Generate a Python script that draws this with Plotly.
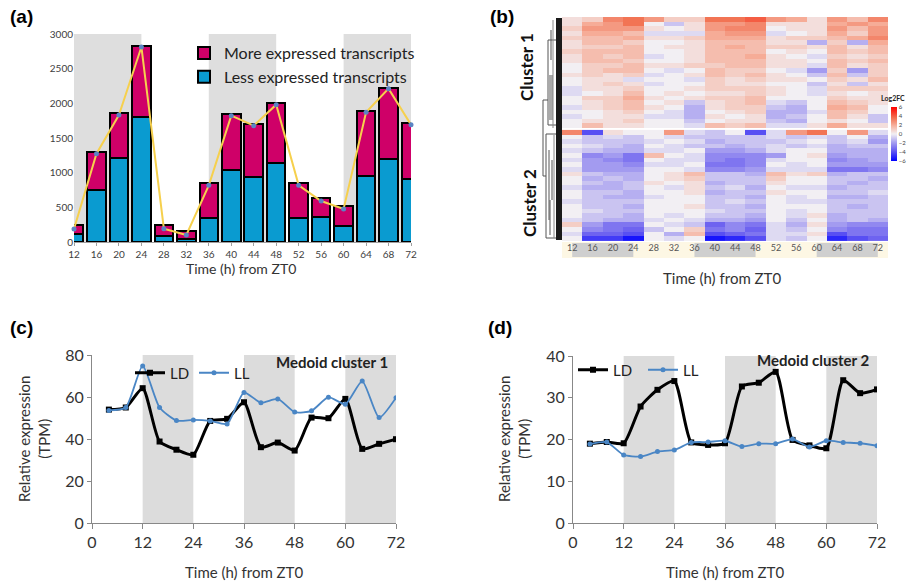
import plotly.graph_objects as go

W, H = 909, 584
def px(x):
    return x / W
def py(y):
    return 1 - y / H

FONT = "Lato"

# ---------------- data ----------------
hours = [12, 16, 20, 24, 28, 32, 36, 40, 44, 48, 52, 56, 60, 64, 68, 72]
less_expressed = [115, 745, 1210, 1800, 80, 48, 346, 1040, 935, 1135, 346, 356, 236, 945, 1195, 910]
more_expressed = [125, 555, 645, 1020, 160, 106, 510, 806, 765, 865, 510, 279, 288, 949, 1025, 806]
total_line = [187, 1274, 1832, 2813, 192, 101, 817, 1822, 1678, 1981, 817, 591, 476, 1870, 2212, 1692]

dark_periods = [(12, 24), (36, 48), (60, 72)]

# heatmap (log2 fold change), rows top to bottom
cluster1_rows = [
    [0.5, 1, 3, 3.5, 2.5, 1, 1, 3.5, 3.5, 4, 2.5, 2, 0.5, 2.5, 1.5, 3],
    [0.5, 2, 2.5, 3.5, 0, -1, 0.5, 2.5, 2.5, 3, 0.5, 0.5, 0.5, 2, 2.5, 2],
    [1, 2.5, 2.5, 2.5, 0.5, 0, 0.5, 2.5, 3, 3, 0, 0.5, 0.5, 2.5, 1.5, 2.5],
    [0.5, 2, 2, 1.5, -0.5, -0.5, -0.5, 2, 2.5, 2.5, -0.5, 0, 0.5, 2, 1, 2.5],
    [1, 1.5, 1.5, 2, 0.5, 0.5, 1, 2, 2, 2, 0.5, 1, 1, 1.5, 2, 3],
    [0.5, 1.5, 1.5, 1, 0, 0, 0.5, 1.5, 1.5, 1.5, 0.5, 0.5, -1.5, 1, -1.5, 2],
    [0.5, 1, 1, 1.5, 0, 0.5, 0.5, 1.5, 2, 1.5, 1, 1, 0.5, 1.5, 0.5, 1.5],
    [1, 1.5, 1.5, 1.5, 0, 0, 0.5, 1.5, 1.5, 1.5, 0, 0.5, 0, 1.5, 1, 1.5],
    [0.5, 1.5, 1, 1.5, -0.5, 0, 0.5, 1.5, 1.5, 2, 0.5, 0, -0.5, 1, 0.5, 1],
    [0.5, 1.5, 1.5, 1, 0, 0, 0.5, 1.5, 1.5, 1.5, 0.5, 0.5, 0, 1.5, 1, 1.5],
    [0, 1, 1, 1.5, 0.5, 0.5, 1, 1, 1.5, 1.5, 0.5, 0.5, -0.5, 1.5, 0.5, 1],
    [0, 1, 1.5, 1.5, 0, -0.5, 0, 1.5, 1, 1, 0, -0.5, -2, 1, -2, 1],
    [0.5, 1, 0.5, 1, -0.5, 0, 0.5, 1.5, 1, 1.5, 0.5, 0, -1, 1.5, -1, 1],
    [0, 0.5, 0.5, -0.5, 0, 0, -0.5, 1, 0.5, 1, 0.5, 0.5, 0, 1, 0.5, 1.5],
    [0, 0.5, 1, 0.5, -0.5, 0, 0, 1, 0.5, 0.5, 0, 0, -1, 0.5, -1, 0.5],
    [-0.5, 0.5, 0.5, 1, 0, 0, 0.5, 1, 1, 1, 0.5, 0, -0.5, 1, 1, 1],
    [-0.5, 0, 0.5, 1.5, 0, 0.5, 0, 0.5, 0.5, 1, 0.5, 0, -0.5, 0.5, 0, 0.5],
    [0, 1, 1, 2, 0.5, 0, 0.5, 1, 1, 1.5, 0, 0, 0, 1, 0.5, 0.5],
    [0, 0.5, 1, 1.5, 0, 0.5, -1, 0.5, 1, 1.5, -0.5, -1, 0, 1.5, 1, 0.5],
    [-0.5, 0.5, 1, 1.5, 0.5, 0, -1.5, 0.5, 1, 1, -1, -1.5, 0, 2, 1.5, 0],
    [0, 0, 0.5, 1, 0, -0.5, -1.5, 0, 0.5, 1, -1.5, -1.5, -0.5, 1.5, 1, 0],
    [-0.5, 0, 0.5, 0.5, -0.5, -0.5, -1.5, 0.5, 0, 0.5, -1.5, -1, 0, 1.5, 0.5, -1],
    [0, 0.5, 0.5, 1, 0, 0, -1, 0, 0.5, 0.5, -1, -1.5, 0, 0.5, 0, -1],
    [0, 1.5, 0.5, 0.5, 0, 0, -0.5, 1.5, 1, 1.5, -0.5, -0.5, 0.5, 2, 0.5, 0.5],
]
cluster2_rows = [
    [3, -4, 0.5, 0, 0, 2.5, -0.5, -1, 0, -4, -0.5, 2.5, 3.5, 0, 2.5, -0.5],
    [0, -1, -0.5, -1, 0, -0.5, -1, -1, -1, -1, -0.5, -1, -0.5, -1, 0, -1.5],
    [-0.5, -1, -1, -1, -0.5, 0, -0.5, -1.5, -1, -1, -1, -0.5, 0, -1, -0.5, -2],
    [0, -0.5, -1, -1.5, 0, -0.5, -1, -1, -1.5, -1, -0.5, -1, -0.5, -1.5, -1, -1],
    [-0.5, -1, -1.5, -1.5, -0.5, -0.5, 0, -2, -2, -1.5, -0.5, 0, 0, -1.5, -1.5, -1.5],
    [0, -2.5, -2, -3, 1.5, 0, -0.5, -2.5, -2.5, -2.5, -2, 0, 0.5, -2, -1.5, -1.5],
    [-0.5, -2, -2.5, -3, 0, -0.5, -0.5, -2.5, -3, -2.5, -0.5, 0, 0, -2.5, -2, -1.5],
    [0, -2, -2, -2.5, -0.5, -0.5, 0, -3, -3, -2.5, 0, -0.5, 0, -2, -2, -2],
    [-0.5, -2, -2, -2, 0, 0, -0.5, -2.5, -2.5, -2, -0.5, -0.5, -0.5, -3, -3, -2.5],
    [0.5, -1, -1.5, -1.5, 0, 0.5, 1.5, -1, -1, -1.5, 1.5, 0.5, 1, -1.5, -1, -1],
    [0, -1.5, -1, -1.5, 0, 0.5, 1, -1, -1, -1, 1, 0, 0, -1, -1, -1.5],
    [0, -1, -1.5, -1, 0.5, 0, 0.5, -1.5, -1, -1, 0.5, 0, 0, -1, -1.5, -1],
    [-0.5, -1.5, -1.5, -1, 0, -0.5, 0.5, -1, -0.5, -1.5, 0, -0.5, -0.5, -1.5, -1, -1],
    [0, -1, -1, -1.5, 0, 0, 0.5, -1.5, -1, -1, 0.5, 0, 0, -1, -1, -0.5],
    [0, -1, -1.5, -1.5, -0.5, 0, 0, -1, -1, -1.5, 0, -0.5, 0, -1.5, -1.5, -1],
    [-0.5, -1, -1, -1, 0, 0, 0, -1, -0.5, -1, 0, -0.5, -0.5, -1, -1, -1],
    [0, -1, -1, -1.5, 0, 0, 0.5, -1, -1, -1.5, 0, 0, 0, -1, -1.5, -1],
    [0, -0.5, -1, -1, 0, 0, 0, -0.5, -1, -1, 0, -0.5, 0, -1, -1, -1],
    [0, -1, -1, -1.5, 0, -0.5, 0, -1, -1, -1.5, 0, -0.5, 0.5, -1.5, -1, -1],
    [-0.5, -1, -1.5, -1.5, -0.5, 0, -0.5, -1.5, -1.5, -2, 0, -1, 0, -1.5, -1, -1.5],
    [1, -2, -3, -3, 0, -0.5, -1, -3.5, -2.5, -3, -0.5, -1.5, 0.5, -2, -2.5, -2.5],
    [0, -2.5, -3, -3.5, -1, 0, 1, -3, -2.5, -3.5, -0.5, -1, 0, -2.5, -3, -3],
    [-0.5, -3.5, -3.5, -4, 0, -1.5, 1.5, -4, -3.5, -3, -0.5, -0.5, 0.5, -4, -3, -3],
    [0, -4.5, -4.5, -5.5, 0, -0.5, 0, -5.5, -5, -4, -0.5, -1, 0, -5, -4, -3.5],
]

time_points = [4, 8, 12, 16, 20, 24, 28, 32, 36, 40, 44, 48, 52, 56, 60, 64, 68, 72]
c1_LD = [54, 55, 64.2, 38.8, 34.9, 32.5, 48.6, 49.6, 57.5, 36.1, 38.3, 34.5, 50.2, 49.9, 59.1, 35.3, 37.7, 39.9]
c1_LL = [53.6, 55, 74.8, 55, 48.8, 49.1, 48.6, 47.2, 62.1, 57.3, 59.1, 52.8, 53.4, 59.9, 56.6, 67.6, 50.2, 59.7]
c2_LD = [19.0, 19.4, 19.1, 27.9, 31.9, 34.0, 19.3, 18.7, 19.1, 32.7, 33.6, 36.2, 19.9, 18.6, 17.9, 34.2, 31.1, 32.0]
c2_LL = [18.9, 19.4, 16.3, 15.9, 17.1, 17.5, 19.3, 19.4, 19.7, 18.3, 19.0, 19.0, 20.1, 18.2, 19.7, 19.3, 19.1, 18.5]

# ---------------- figure ----------------
fig = go.Figure()

BLUE = "#0a9bd0"
MAGENTA = "#cf0068"

# (a) stacked bars
fig.add_trace(go.Bar(x=hours, y=less_expressed, width=3.3, name="Less expressed transcripts",
                     marker=dict(color=BLUE, line=dict(color="black", width=2)),
                     xaxis="x", yaxis="y", legend="legend"))
fig.add_trace(go.Bar(x=hours, y=more_expressed, width=3.3, name="More expressed transcripts",
                     marker=dict(color=MAGENTA, line=dict(color="black", width=2)),
                     xaxis="x", yaxis="y", legend="legend"))
fig.add_trace(go.Scatter(x=hours, y=total_line, mode="lines+markers", showlegend=False,
                         line=dict(color="#f6d04d", width=2),
                         marker=dict(color="#5b84c4", size=5),
                         cliponaxis=False, xaxis="x", yaxis="y"))

# (b) heatmap
n1 = len(cluster1_rows)
n2 = len(cluster2_rows)
fig.add_trace(go.Heatmap(z=cluster1_rows, x=hours, y=list(range(n1)), coloraxis="coloraxis",
                         xaxis="x2", yaxis="y2", hoverinfo="skip"))
fig.add_trace(go.Heatmap(z=cluster2_rows, x=hours, y=[n1 + 0.4 + i for i in range(n2)],
                         coloraxis="coloraxis", xaxis="x2", yaxis="y2", hoverinfo="skip"))

# (c) medoid cluster 1
fig.add_trace(go.Scatter(x=time_points, y=c1_LD, name="LD", mode="lines+markers",
                         line=dict(color="black", width=3, shape="spline", smoothing=0.6),
                         marker=dict(symbol="square", size=6, color="black"),
                         xaxis="x3", yaxis="y3", legend="legend2"))
fig.add_trace(go.Scatter(x=time_points, y=c1_LL, name="LL", mode="lines+markers",
                         line=dict(color="#4a86c5", width=1.8, shape="spline", smoothing=0.6),
                         marker=dict(symbol="circle", size=5, color="#4a86c5"),
                         xaxis="x3", yaxis="y3", legend="legend3"))
# (d) medoid cluster 2
fig.add_trace(go.Scatter(x=time_points, y=c2_LD, name="LD", mode="lines+markers",
                         line=dict(color="black", width=3, shape="spline", smoothing=0.6),
                         marker=dict(symbol="square", size=6, color="black"),
                         xaxis="x4", yaxis="y4", legend="legend4"))
fig.add_trace(go.Scatter(x=time_points, y=c2_LL, name="LL", mode="lines+markers",
                         line=dict(color="#4a86c5", width=1.8, shape="spline", smoothing=0.6),
                         marker=dict(symbol="circle", size=5, color="#4a86c5"),
                         xaxis="x4", yaxis="y4", legend="legend5"))

shapes = []
for (a0, a1) in dark_periods:
    shapes.append(dict(type="rect", xref="x", yref="y", x0=a0, x1=a1, y0=0, y1=3000,
                       fillcolor="#dedede", line=dict(width=0), layer="below"))
    shapes.append(dict(type="rect", xref="x3", yref="y3", x0=a0, x1=a1, y0=0, y1=80,
                       fillcolor="#dcdcdc", line=dict(width=0), layer="below"))
    shapes.append(dict(type="rect", xref="x4", yref="y4", x0=a0, x1=a1, y0=0, y1=40,
                       fillcolor="#dcdcdc", line=dict(width=0), layer="below"))

# heatmap time band
shapes.append(dict(type="rect", xref="x2", yref="paper", x0=10, x1=74, y0=py(258), y1=py(242),
                   fillcolor="#fdf7e4", line=dict(width=0), layer="below"))
for (a0, a1) in dark_periods:
    shapes.append(dict(type="rect", xref="x2", yref="paper", x0=a0, x1=a1, y0=py(257), y1=py(243),
                       fillcolor="#cfcfcf", line=dict(width=0), layer="below"))

# dendrogram (decorative)
shapes.append(dict(type="rect", xref="paper", yref="paper", x0=px(556), x1=px(562), y0=py(240), y1=py(18),
                   fillcolor="#1a1a1a", line=dict(width=0)))
def seg(x0, y0, x1, y1, w=1, c="#555"):
    shapes.append(dict(type="line", xref="paper", yref="paper", x0=px(x0), y0=py(y0), x1=px(x1), y1=py(y1),
                       line=dict(color=c, width=w)))
# root
seg(543, 100, 543, 176)
seg(543, 100, 548, 100)
seg(543, 176, 546, 176)
# cluster 1 branch
seg(548, 40, 548, 125)
seg(548, 40, 556, 40)
seg(548, 125, 556, 125)
seg(551, 30, 551, 60); seg(552, 75, 552, 120); seg(550, 75, 550, 120)
seg(553, 20, 553, 128, c="#888")
# cluster 2 branch
seg(546, 134, 546, 238)
seg(546, 134, 556, 134)
seg(546, 238, 556, 238)
seg(549, 150, 549, 220); seg(552, 160, 552, 200); seg(550, 200, 550, 235)
seg(554, 135, 554, 238, c="#888")

def ann(text, x, y, size, color="#333", family=FONT, angle=0, xanchor="center"):
    return dict(text=text, x=px(x), y=py(y), xref="paper", yref="paper", showarrow=False,
                xanchor=xanchor, yanchor="middle", textangle=angle,
                font=dict(family=family, size=size, color=color))

annotations = [
    ann("<b>(a)</b>", 8, 17, 19, "black", "Liberation Sans", xanchor="left"),
    ann("<b>(b)</b>", 488, 17, 19, "black", "Liberation Sans", xanchor="left"),
    ann("<b>(c)</b>", 8, 327, 19, "black", "Liberation Sans", xanchor="left"),
    ann("<b>(d)</b>", 486, 327, 19, "black", "Liberation Sans", xanchor="left"),
    ann("Time (h) from ZT0", 241, 268, 14),
    ann("Time (h) from ZT0", 722, 278, 15),
    ann("Time (h) from ZT0", 244, 572, 15),
    ann("Time (h) from ZT0", 725, 572, 15),
    ann("Relative expression<br>(TPM)", 34, 439, 15, angle=-90),
    ann("Relative expression<br>(TPM)", 514, 439, 15, angle=-90),
    ann("<b>Medoid cluster 1</b>", 390, 362, 15, "#222", xanchor="right"),
    ann("<b>Medoid cluster 2</b>", 872, 360, 15, "#222", xanchor="right"),
    ann("<b>Cluster 1</b>", 527, 67, 17, "#111", angle=-90),
    ann("<b>Cluster 2</b>", 529, 203, 17, "#111", angle=-90),
    ann("<b>Log2FC</b>", 907, 98, 7, "#222", xanchor="right"),
]

tickfont_a = dict(family=FONT, size=10, color="#404040")
big_tick = dict(family=FONT, size=16, color="#333")

legend_common = dict(bgcolor="rgba(0,0,0,0)", xanchor="left", yanchor="middle", orientation="h",
                     font=dict(family=FONT, size=15, color="#222"), itemwidth=30)

fig.update_layout(
    width=W, height=H, margin=dict(l=0, r=0, t=0, b=0, autoexpand=False),
    paper_bgcolor="white", plot_bgcolor="rgba(0,0,0,0)",
    barmode="stack", bargap=0,
    showlegend=True,
    font=dict(family=FONT),
    xaxis=dict(domain=[px(74), px(411)], range=[12, 72], tickvals=hours, tickfont=tickfont_a,
               showline=True, linecolor="#a0a0a0", ticks="outside", ticklen=3, tickcolor="#a0a0a0",
               showgrid=False, zeroline=False, anchor="y", automargin=False),
    yaxis=dict(domain=[py(242), py(34)], range=[0, 3000], dtick=500, tickfont=tickfont_a,
               showgrid=False, zeroline=False, showline=False, ticks="", anchor="x", automargin=False),
    xaxis2=dict(domain=[px(562), px(888)], range=[10, 74], tickvals=hours,
                tickfont=dict(family=FONT, size=9, color="#555"), showgrid=False, zeroline=False,
                showline=False, ticks="", anchor="y2", automargin=False),
    yaxis2=dict(domain=[py(241), py(17)], range=[n1 + n2 - 0.1, -0.5], showticklabels=False,
                showgrid=False, zeroline=False, showline=False, ticks="", anchor="x2", automargin=False),
    xaxis3=dict(domain=[px(92), px(396)], range=[0, 72], tickvals=[0, 12, 24, 36, 48, 60, 72],
                tickfont=big_tick, showline=True, linecolor="#888", ticks="outside", ticklen=5,
                tickcolor="#888", showgrid=False, zeroline=False, anchor="y3", automargin=False),
    yaxis3=dict(domain=[py(523), py(355)], range=[0, 80], dtick=20, tickfont=big_tick,
                showline=True, linecolor="#888", ticks="outside", ticklen=4, tickcolor="#888",
                showgrid=False, zeroline=False, anchor="x3", automargin=False),
    xaxis4=dict(domain=[px(573), px(877)], range=[0, 72], tickvals=[0, 12, 24, 36, 48, 60, 72],
                tickfont=big_tick, showline=True, linecolor="#888", ticks="outside", ticklen=5,
                tickcolor="#888", showgrid=False, zeroline=False, anchor="y4", automargin=False),
    yaxis4=dict(domain=[py(523), py(356)], range=[0, 40], dtick=10, tickfont=big_tick,
                showline=True, linecolor="#888", ticks="outside", ticklen=4, tickcolor="#888",
                showgrid=False, zeroline=False, anchor="x4", automargin=False),
    coloraxis=dict(cmin=-6, cmax=6,
                   colorscale=[[0, "#0000ff"], [0.2, "#6a5ff0"], [0.35, "#aaa2f0"], [0.5, "#f2eff3"],
                               [0.65, "#f6b3a0"], [0.8, "#f27050"], [1, "#ff0000"]],
                   colorbar=dict(x=px(891), xanchor="left", y=py(134), yanchor="middle", len=54 / H,
                                 thickness=6, outlinewidth=0, tickvals=[-6, -4, -2, 0, 2, 4, 6],
                                 tickfont=dict(family=FONT, size=6, color="#444"), ticklen=0,
                                 xpad=0, ypad=0)),
    legend=dict(x=px(184), y=py(36), xanchor="left", yanchor="top", traceorder="reversed",
                bgcolor="rgba(0,0,0,0)", font=dict(family=FONT, size=16, color="#222"), tracegroupgap=4),
    legend2=dict(legend_common, x=px(130), y=py(373)),
    legend3=dict(legend_common, x=px(194), y=py(373)),
    legend4=dict(legend_common, x=px(573), y=py(370)),
    legend5=dict(legend_common, x=px(643), y=py(370)),
    shapes=shapes,
    annotations=annotations,
)

fig.write_html("out.html", config={"displayModeBar": False},
               post_script="document.body.style.margin='0';document.body.style.padding='0';")
